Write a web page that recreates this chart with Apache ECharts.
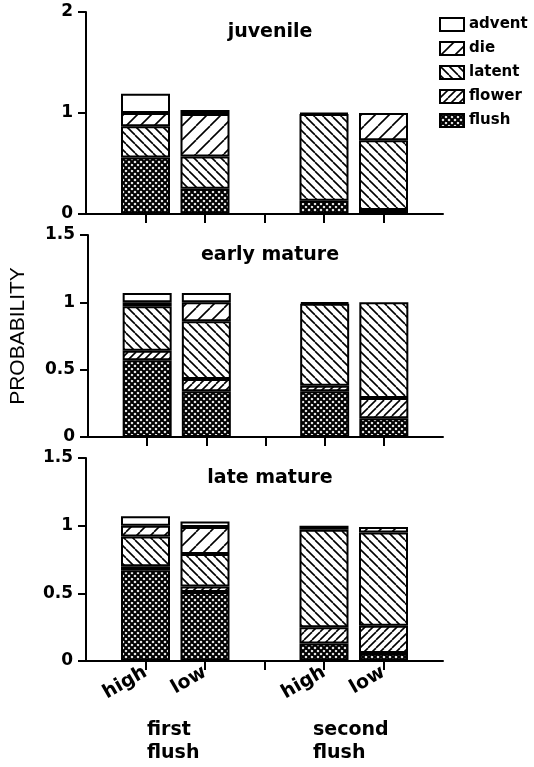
<!DOCTYPE html>
<html>
<head>
<meta charset="utf-8">
<script src="https://cdn.jsdelivr.net/npm/echarts@6/dist/echarts.min.js"></script>
<style>
  html, body { margin: 0; padding: 0; background: #fff; }
  #main { width: 534px; height: 767px; }
</style>
</head>
<body>
<div id="main"></div>
<script>
// categories on the x axis (empty slots give the outer margins and the gap)
var categories = ['', 'high', 'low', '', 'high', 'low', ''];
var groups = ['first\nflush', 'second\nflush'];
var panels = ['juvenile', 'early mature', 'late mature'];
var stackNames = ['flush', 'flower', 'latent', 'die', 'advent'];

// values for the four bars: first-high, first-low, second-high, second-low
var juvFlush   = [0.56, 0.25, 0.13, 0.04];
var juvFlower  = [0.00, 0.00, 0.00, 0.00];
var juvLatent  = [0.31, 0.32, 0.86, 0.69];
var juvDie     = [0.13, 0.42, 0.01, 0.27];
var juvAdvent  = [0.19, 0.04, 0.00, 0.00];

var earlyFlush  = [0.57, 0.34, 0.34, 0.14];
var earlyFlower = [0.07, 0.09, 0.04, 0.15];
var earlyLatent = [0.33, 0.43, 0.61, 0.71];
var earlyDie    = [0.03, 0.14, 0.01, 0.00];
var earlyAdvent = [0.07, 0.07, 0.00, 0.00];

var lateFlush  = [0.67, 0.51, 0.13, 0.06];
var lateFlower = [0.03, 0.04, 0.12, 0.20];
var lateLatent = [0.22, 0.24, 0.72, 0.69];
var lateDie    = [0.08, 0.20, 0.03, 0.04];
var lateAdvent = [0.07, 0.04, 0.00, 0.00];

var panelData = [
    [juvFlush, juvFlower, juvLatent, juvDie, juvAdvent],
    [earlyFlush, earlyFlower, earlyLatent, earlyDie, earlyAdvent],
    [lateFlush, lateFlower, lateLatent, lateDie, lateAdvent]
];
var yMax = [2, 1.5, 1.5];
var yInterval = [1, 0.5, 0.5];

// hatch fills
function hatch(size, dirs, lw) {
    var c = document.createElement('canvas');
    c.width = size; c.height = size;
    var ctx = c.getContext('2d');
    ctx.fillStyle = '#fff';
    ctx.fillRect(0, 0, size, size);
    ctx.strokeStyle = '#000';
    ctx.lineWidth = lw;
    dirs.forEach(function (d) {
        for (var k = -1; k <= 1; k++) {
            ctx.beginPath();
            if (d === '/') {
                ctx.moveTo(k * size, size);
                ctx.lineTo(k * size + size, 0);
            } else {
                ctx.moveTo(k * size, 0);
                ctx.lineTo(k * size + size, size);
            }
            ctx.stroke();
        }
    });
    return { image: c, repeat: 'repeat' };
}

var fills = {
    flush: hatch(6, ['/', '\\'], 2.1),
    flower: hatch(8, ['/'], 1.6),
    latent: hatch(9, ['\\'], 1.6),
    die: hatch(14, ['/'], 1.6),
    advent: '#fff'
};

var font = 'DejaVu Sans';
var gridTops = [12, 235, 458];
var gridHeights = [202, 202, 203];

function expand(vals) {
    // place the four values at the bar slots of the category axis, zeros left out
    var v = vals.map(function (x) { return x > 0 ? x : '-'; });
    return ['-', v[0], v[1], '-', v[2], v[3], '-'];
}

var grids = [], xAxes = [], yAxes = [], series = [], titles = [];
for (var p = 0; p < 3; p++) {
    grids.push({ left: 86, width: 357, top: gridTops[p], height: gridHeights[p] });
    xAxes.push({
        type: 'category',
        gridIndex: p,
        data: categories,
        boundaryGap: false,
        axisLine: { lineStyle: { color: '#000', width: 2 } },
        axisTick: {
            show: true,
            length: 9,
            lineStyle: { color: '#000', width: 2 },
            interval: function (idx) { return idx > 0 && idx < 6; }
        },
        axisLabel: {
            show: p === 2,
            interval: 0,
            rotate: 30,
            margin: 10,
            color: '#000',
            fontFamily: font,
            fontWeight: 'bold',
            fontSize: 19
        },
        splitLine: { show: false }
    });
    yAxes.push({
        type: 'value',
        gridIndex: p,
        min: 0,
        max: yMax[p],
        interval: yInterval[p],
        name: p === 1 ? 'PROBABILITY' : '',
        nameLocation: 'middle',
        nameRotate: 90,
        nameGap: 59,
        nameTextStyle: { fontFamily: 'Liberation Sans', fontSize: 21, color: '#000' },
        axisLine: { show: true, lineStyle: { color: '#000', width: 2 } },
        axisTick: { show: true, length: 8, lineStyle: { color: '#000', width: 2 } },
        axisLabel: {
            margin: 13,
            color: '#000',
            fontFamily: font,
            fontWeight: 'bold',
            fontSize: 17
        },
        splitLine: { show: false }
    });
    titles.push({
        text: panels[p],
        left: 265,
        top: [18, 241, 464][p],
        textAlign: 'center',
        textStyle: { fontFamily: font, fontWeight: 'bold', fontSize: 19, color: '#000' }
    });
    for (var s = 0; s < stackNames.length; s++) {
        series.push({
            name: stackNames[s],
            type: 'bar',
            xAxisIndex: p,
            yAxisIndex: p,
            stack: 'panel' + p,
            barWidth: 49,
            data: expand(panelData[p][s]),
            itemStyle: {
                color: fills[stackNames[s]],
                borderColor: '#000',
                borderWidth: 2
            }
        });
    }
}

var myChart = echarts.init(document.getElementById('main'));
var option = {
    backgroundColor: '#fff',
    animation: false,
    title: titles,
    legend: {
        orient: 'vertical',
        left: 434,
        top: 12,
        itemWidth: 24,
        itemHeight: 13,
        itemGap: 9,
        icon: 'rect',
        data: ['advent', 'die', 'latent', 'flower', 'flush'],
        textStyle: { fontFamily: font, fontWeight: 'bold', fontSize: 15, color: '#000' }
    },
    grid: grids,
    xAxis: xAxes,
    yAxis: yAxes,
    series: series,
    graphic: [
        { type: 'text', left: 147, top: 719, style: { text: groups[0], font: 'bold 19px "DejaVu Sans"', fill: '#000', lineHeight: 23 } },
        { type: 'text', left: 313, top: 719, style: { text: groups[1], font: 'bold 19px "DejaVu Sans"', fill: '#000', lineHeight: 23 } }
    ]
};
myChart.setOption(option);
</script>
</body>
</html>
